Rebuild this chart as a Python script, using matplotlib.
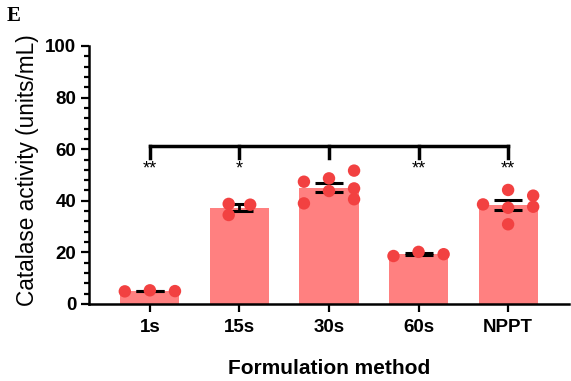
import numpy as np
import matplotlib
matplotlib.use('Agg')
import matplotlib.pyplot as plt
from matplotlib.ticker import MultipleLocator

plt.rcParams['font.family'] = ['Liberation Sans', 'DejaVu Sans']

# catalase activity per formulation (units/mL), individual replicates
groups = ['1s', '15s', '30s', '60s', 'NPPT']
vals_1s = [4.9, 5.3, 5.0]
vals_15s = [38.8, 38.5, 34.5]
vals_30s = [47.4, 39.0, 48.7, 43.8, 51.7, 44.8, 40.6]
vals_60s = [18.6, 20.2, 19.3]
vals_nppt = [38.6, 44.2, 37.3, 30.9, 42.0, 37.7]
stars = ['**', '*', '', '**', '**']
replicates = [vals_1s, vals_15s, vals_30s, vals_60s, vals_nppt]

# horizontal scatter of dots within each bar (layout only)
spread = [
    [-0.28, 0, 0.28],
    [-0.12, 0.12, -0.12],
    [-0.28, -0.28, 0, 0, 0.28, 0.28, 0.28],
    [-0.28, 0, 0.28],
    [-0.28, 0, 0, 0, 0.28, 0.28],
]

means = [np.mean(v) for v in replicates]
sems = [np.std(v, ddof=1) / np.sqrt(len(v)) for v in replicates]
x = np.arange(len(groups))

fig = plt.figure(figsize=(5.71, 3.81), dpi=100)
ax = fig.add_axes([89 / 571, 1 - 304 / 381, 480 / 571, 258 / 381])

ax.bar(x, means, width=0.66, color='#FF8080', edgecolor='none', zorder=1)
ax.errorbar(x, means, yerr=sems, fmt='none', ecolor='black', elinewidth=2,
            capsize=10, capthick=2.2, zorder=2)
for i, v in enumerate(replicates):
    ax.scatter(x[i] + np.array(spread[i]), v, s=80, color='#F24141',
               edgecolors='none', zorder=3)

# significance bracket across all groups
top, drop = 61.4, 56.6
ax.plot([x[0], x[-1]], [top, top], color='black', lw=2.5,
        solid_capstyle='projecting', zorder=4, clip_on=False)
for xi, s in zip(x, stars):
    ax.plot([xi, xi], [top, drop], color='black', lw=2.5, zorder=4)
    if s:
        ax.text(xi, 52.2, s, ha='center', va='center', fontsize=13)

ax.set_xlim(-0.68, 4.68)
ax.set_ylim(0, 100)
ax.set_xticks(x)
ax.set_xticklabels(groups, fontsize=13.5, fontweight='bold')
ax.yaxis.set_major_locator(MultipleLocator(20))
ax.yaxis.set_minor_locator(MultipleLocator(4))
for lbl in ax.get_yticklabels():
    lbl.set_fontweight('bold')
    lbl.set_fontsize(13.5)

ax.tick_params(axis='both', which='major', length=6, width=1.6, pad=3)
ax.tick_params(axis='x', which='major', pad=5)
ax.tick_params(axis='y', which='minor', length=3.5, width=1.6)
ax.spines['top'].set_visible(False)
ax.spines['right'].set_visible(False)
ax.spines['left'].set_linewidth(1.8)
ax.spines['bottom'].set_linewidth(1.8)

ax.set_ylabel('Catalase activity (units/mL)', fontsize=16.3)
ax.yaxis.set_label_coords(-0.105, 0.52)
ax.set_xlabel('Formulation method', fontsize=15, fontweight='bold', labelpad=16)

fig.text(7 / 571, 1 - 16 / 381, 'E', fontsize=15, fontweight='bold',
         family='Liberation Serif', va='center', ha='left')

fig.savefig('out.png', dpi=100, facecolor='white')
